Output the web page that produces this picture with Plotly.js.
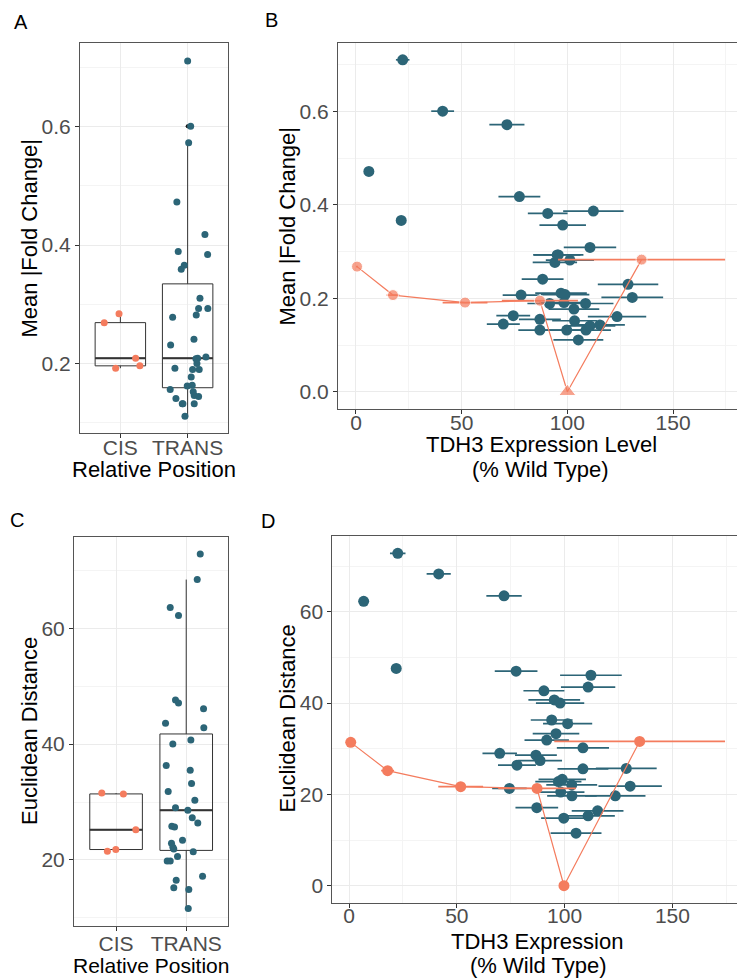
<!DOCTYPE html>
<html><head><meta charset="utf-8">
<script src="https://cdn.plot.ly/plotly-3.0.1.min.js"></script>
<style>html,body{margin:0;padding:0;overflow:hidden;background:#fff;width:737px;height:978px}</style>
</head><body><div id="chart" style="width:760px;height:978px"></div>
<script>
// ---------- data ----------
const positions = ['CIS', 'TRANS'];

// Panel A: mean |fold change| by relative position (jitter offsets)
const foldCis = [0.269, 0.284, 0.209, 0.192, 0.196];
const foldCisJitter = [-0.24, -0.02, 0.227, -0.07, 0.29];
const foldTrans = [0.711, 0.601, 0.573, 0.473, 0.418, 0.389, 0.384, 0.366, 0.359, 0.310,
  0.293, 0.293, 0.282, 0.278, 0.241, 0.231, 0.211, 0.209, 0.208, 0.200,
  0.192, 0.190, 0.190, 0.177, 0.163, 0.162, 0.156, 0.152, 0.146, 0.144,
  0.141, 0.132, 0.132, 0.132, 0.111];
const foldTransJitter = [0.0, 0.045, 0.015, -0.16, 0.257, -0.14, 0.297, -0.05, -0.095, 0.183,
  0.163, 0.30, 0.128, -0.223, 0.094, -0.253, 0.272, 0.149, 0.123, 0.138,
  -0.189, 0.172, 0.074, 0.053, 0.068, -0.006, -0.259, 0.083, 0.098, 0.163,
  -0.174, -0.08, 0.098, -0.07, -0.04];

// Panel C: euclidean distance by relative position
const distCis = [31.55, 31.4, 25.2, 21.5, 21.8];
const distCisJitter = [-0.204, 0.104, 0.281, -0.124, -0.004];
const distTrans = [72.8, 68.4, 63.6, 62.2, 47.6, 47.1, 46.1, 43.6, 42.8, 40.7,
  40.0, 36.3, 35.5, 33.2, 31.8, 30.3, 29.0, 28.6, 27.3, 26.4,
  25.8, 25.7, 23.4, 22.9, 22.2, 21.9, 21.4, 20.6, 19.8, 19.8,
  17.2, 16.5, 15.2, 14.9, 11.6];
const distTransJitter = [0.20, 0.157, -0.228, -0.11, -0.153, -0.11, 0.247, -0.295, 0.251, 0.066,
  -0.191, -0.285, 0.057, 0.076, -0.257, 0.123, -0.153, 0.023, 0.086, 0.165,
  -0.205, -0.167, -0.053, -0.21, -0.19, -0.177, 0.10, -0.124, -0.271, -0.228,
  0.233, -0.143, -0.177, 0.037, 0.029];

// Panel B: TDH3 expression vs mean |fold change|
const transExprB = [22.1, 41.0, 71.4, 6.1, 77.3, 21.4, 90.7, 112.3, 97.8, 110.7,
  95.7, 94.1, 101.2, 88.3, 78.1, 97.0, 91.6, 98.4, 108.6, 103.1,
  128.7, 130.7, 74.4, 69.7, 87.0, 103.4, 87.0, 99.7, 108.8, 110.7,
  115.4, 123.5, 105.2, 95.2, 98.9];
const transExprErrB = [3.2, 5.4, 8.3, 0.5, 9.9, 0.5, 9.4, 14.3, 11.0, 12.4,
  11.9, 10.5, 11.4, 9.9, 8.7, 12.2, 10.5, 11.5, 13.2, 12.0,
  14.3, 14.6, 8.0, 7.8, 9.9, 10.6, 10.2, 10.3, 11.8, 12.0,
  11.8, 13.8, 11.8, 11.0, 11.5];
const transFoldB = [0.711, 0.601, 0.572, 0.472, 0.418, 0.367, 0.382, 0.387, 0.357, 0.309,
  0.293, 0.277, 0.282, 0.241, 0.207, 0.211, 0.189, 0.191, 0.189, 0.177,
  0.230, 0.202, 0.163, 0.145, 0.155, 0.152, 0.132, 0.132, 0.132, 0.141,
  0.143, 0.161, 0.111, 0.293, 0.208];
const cisExprB = [0.5, 17.5, 51.6, 87.0, 100.0, 135.1];
const cisExprErrB = [0.5, 3.0, 10.6, 18.0, 0.0, 39.5];
const cisFoldB = [0.268, 0.207, 0.191, 0.195, 0.0, 0.283];
const cisSymbolB = ['circle', 'circle', 'circle', 'circle', 'triangle-up', 'circle'];

// Panel D: TDH3 expression vs euclidean distance
const transExprD = [22.6, 41.6, 71.9, 6.8, 21.9, 77.5, 112.2, 110.9, 90.4, 95.2,
  97.9, 94.0, 101.4, 96.0, 91.7, 108.5, 69.9, 86.7, 88.6, 77.9,
  108.5, 128.6, 74.4, 97.1, 98.9, 103.3, 130.4, 98.2, 103.4, 123.5,
  87.1, 115.3, 110.9, 99.6, 105.3];
const transExprErrD = [3.6, 5.6, 8.2, 0.5, 0.5, 9.9, 14.3, 12.6, 9.5, 12.0,
  11.2, 9.7, 11.4, 10.8, 10.3, 12.1, 8.0, 9.7, 10.2, 8.8,
  11.8, 14.1, 8.0, 10.7, 11.0, 11.8, 14.7, 11.0, 11.5, 14.0,
  9.9, 12.0, 12.4, 10.5, 11.8];
const transDistD = [72.8, 68.3, 63.5, 62.3, 47.6, 47.0, 46.1, 43.5, 42.7, 40.7,
  40.0, 36.3, 35.5, 33.3, 31.9, 30.2, 29.0, 28.6, 27.4, 26.4,
  25.6, 25.7, 21.3, 22.8, 23.3, 22.1, 21.8, 20.5, 19.7, 19.7,
  17.1, 16.4, 15.3, 14.8, 11.5];
const cisExprD = [0.8, 17.9, 51.8, 87.2, 99.7, 134.8];
const cisExprErrD = [0.5, 3.0, 10.4, 18.0, 0.0, 39.6];
const cisDistD = [31.4, 25.2, 21.7, 21.3, 0.0, 31.6];

// axis titles
const titleRelPos = 'Relative Position';
const titleFold = 'Mean |Fold Change|';
const titleDist = 'Euclidean Distance';
const titleExprB = ['TDH3 Expression Level', '(% Wild Type)'];
const titleExprD = ['TDH3 Expression', '(% Wild Type)'];

// ---------- styling ----------
const BLUE = '#2C6577';
const ORANGE = '#F47C5E';
const FONT = 'Liberation Sans, Arial, Helvetica, sans-serif';
const W = 760, H = 978;
const dx = (a, b) => [a / W, b / W];
const dy = (top, bottom) => [1 - bottom / H, 1 - top / H];

function median(a) {
  const s = [...a].sort((p, q) => p - q), n = s.length;
  return n % 2 ? s[(n - 1) / 2] : (s[n / 2 - 1] + s[n / 2]) / 2;
}

const traces = [];
function boxPanel(xa, ya, cisVals, cisJit, transVals, transJit, showOut) {
  [[1, cisVals, cisJit, ORANGE], [2, transVals, transJit, BLUE]].forEach(([pos, vals, jit, col]) => {
    traces.push({
      type: 'box', x0: pos, y: vals, xaxis: xa, yaxis: ya, width: 0.75,
      quartilemethod: 'inclusive', boxpoints: 'outliers', pointpos: 0, jitter: 0,
      fillcolor: 'rgba(255,255,255,0)', whiskerwidth: 0,
      line: { color: '#333333', width: 1 },
      marker: { color: showOut ? '#1a1a1a' : 'rgba(0,0,0,0)', size: 4 },
      hoverinfo: 'skip'
    });
    const m = median(vals);
    traces.push({
      type: 'scatter', mode: 'lines', x: [pos - 0.375, pos + 0.375], y: [m, m],
      xaxis: xa, yaxis: ya, line: { color: '#333333', width: 2 }, hoverinfo: 'skip'
    });
    traces.push({
      type: 'scatter', mode: 'markers', x: vals.map((v, i) => pos + jit[i]), y: vals,
      xaxis: xa, yaxis: ya, marker: { color: col, size: 7 }, hoverinfo: 'skip'
    });
  });
}
boxPanel('x', 'y', foldCis, foldCisJitter, foldTrans, foldTransJitter, true);
boxPanel('x3', 'y3', distCis, distCisJitter, distTrans, distTransJitter, false);

function scatterPanel(xa, ya, tx, te, ty, cx, ce, cy, csym) {
  traces.push({
    type: 'scatter', mode: 'markers', x: tx, y: ty, xaxis: xa, yaxis: ya,
    error_x: { type: 'data', array: te, color: BLUE, thickness: 1.7, width: 0 },
    marker: { color: BLUE, size: 11 }, hoverinfo: 'skip'
  });
  traces.push({
    type: 'scatter', mode: 'lines+markers', x: cx, y: cy, xaxis: xa, yaxis: ya,
    error_x: { type: 'data', array: ce, color: ORANGE, thickness: 1.7, width: 0 },
    line: { color: ORANGE, width: 1.2 },
    marker: { color: ORANGE, size: csym ? csym.map(s => s === 'circle' ? 11 : 15) : 11, symbol: csym || 'circle' },
    hoverinfo: 'skip'
  });
}
scatterPanel('x2', 'y2', transExprB, transExprErrB, transFoldB, cisExprB, cisExprErrB, cisFoldB, cisSymbolB);
scatterPanel('x4', 'y4', transExprD, transExprErrD, transDistD, cisExprD, cisExprErrD, cisDistD, null);

const tickFont = { family: FONT, size: 21, color: '#4D4D4D' };
function axis(extra) {
  return Object.assign({
    showgrid: true, gridcolor: '#EBEBEB', gridwidth: 1, zeroline: false,
    showline: true, mirror: true, linecolor: '#555555', linewidth: 1,
    ticks: 'outside', ticklen: 4, tickcolor: '#333333', tickwidth: 1,
    tickfont: tickFont, fixedrange: true
  }, extra);
}
const minorGrid = (d) => ({ dtick: d, showgrid: true, gridcolor: '#F4F4F4', gridwidth: 1, ticks: '' });

function label(text, x, y, size, angle) {
  return {
    text: text, xref: 'paper', yref: 'paper', x: x / W, y: 1 - y / H,
    xanchor: 'center', yanchor: 'middle', showarrow: false, textangle: angle || 0,
    font: { family: FONT, size: size, color: '#000000' }
  };
}

const layout = {
  width: W, height: H, margin: { l: 0, r: 0, t: 0, b: 0 },
  paper_bgcolor: '#ffffff', plot_bgcolor: '#ffffff', showlegend: false,
  font: { family: FONT },
  xaxis: axis({ domain: dx(80, 228), range: [0.4, 2.6], tickvals: [1, 2], ticktext: positions,
    anchor: 'y', ticklabelstandoff: -9 }),
  yaxis: axis({ domain: dy(42.7, 433.3), range: [0.082, 0.742], tick0: 0, dtick: 0.2, tickformat: '.1f',
    minor: minorGrid(0.1), anchor: 'x' }),
  xaxis2: axis({ domain: dx(338, 746), range: [-8.5, 184.5], tick0: 0, dtick: 50, minor: minorGrid(25),
    anchor: 'y2', ticklabelstandoff: -9 }),
  yaxis2: axis({ domain: dy(43, 409), range: [-0.037, 0.747], tick0: 0, dtick: 0.2, tickformat: '.1f',
    minor: minorGrid(0.1), anchor: 'x2' }),
  xaxis3: axis({ domain: dx(74, 228.3), range: [0.4, 2.6], tickvals: [1, 2], ticktext: positions,
    anchor: 'y3', ticklabelstandoff: -5 }),
  yaxis3: axis({ domain: dy(536.7, 926), range: [8.6, 75.8], tick0: 0, dtick: 20,
    minor: minorGrid(10), anchor: 'x3' }),
  xaxis4: axis({ domain: dx(332.3, 746.8), range: [-7.75, 184.5], tick0: 0, dtick: 50, minor: minorGrid(25),
    anchor: 'y4', ticklabelstandoff: -10 }),
  yaxis4: axis({ domain: dy(536, 902.7), range: [-3.72, 76.6], tick0: 0, dtick: 20,
    minor: minorGrid(10), anchor: 'x4' }),
  annotations: [
    label('A', 21, 22, 20), label('B', 271, 20, 20), label('C', 17, 520, 20), label('D', 268, 521, 20),
    label(titleRelPos, 154, 470, 22),
    label(titleFold, 29.5, 238, 22, -90),
    label(titleExprB[0], 541, 445, 22),
    label(titleExprB[1], 540.5, 469.5, 22),
    label(titleFold, 286.5, 226, 22, -90),
    label(titleRelPos, 151, 965, 21),
    label(titleDist, 29, 731, 22, -90),
    label(titleExprD[0], 537, 941, 22),
    label(titleExprD[1], 538, 965, 22),
    label(titleDist, 286.5, 719, 22, -90)
  ]
};

Plotly.newPlot('chart', traces, layout, { staticPlot: true, displayModeBar: false });
</script>
</body></html>
